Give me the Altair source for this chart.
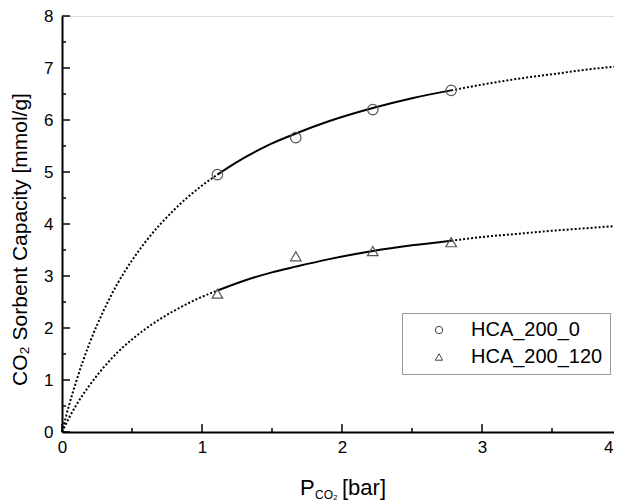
import altair as alt
import pandas as pd

# Measured points
pressure_pts = [1.11, 1.67, 2.22, 2.78]
hca0_pts = [4.95, 5.66, 6.20, 6.57]
hca120_pts = [2.66, 3.38, 3.48, 3.65]
series_names = ["HCA_200_0", "HCA_200_120"]

# Fitted isotherm curves
fit_p = [0, 0.05, 0.1, 0.2, 0.3, 0.4, 0.5, 0.6, 0.8, 1.0, 1.11, 1.3, 1.5,
         1.67, 1.9, 2.22, 2.5, 2.78, 3.0, 3.25, 3.5, 3.75, 4.0]
fit_hca0 = [0, 0.51, 0.96, 1.73, 2.35, 2.87, 3.30, 3.67, 4.27, 4.74, 4.95,
            5.27, 5.55, 5.74, 5.97, 6.23, 6.42, 6.57, 6.68, 6.79, 6.88, 6.97, 7.04]
fit_hca120 = [0, 0.27, 0.51, 0.91, 1.25, 1.54, 1.78, 1.99, 2.33, 2.60, 2.72,
              2.91, 3.07, 3.18, 3.32, 3.48, 3.59, 3.68, 3.75, 3.81, 3.87, 3.92, 3.97]

x_major = [0, 1, 2, 3, 4]
x_minor = [0.5, 1.5, 2.5, 3.5]
y_major = [0, 1, 2, 3, 4, 5, 6, 7, 8]
y_minor = [0.5, 1.5, 2.5, 3.5, 4.5, 5.5, 6.5, 7.5]

W, H = 560, 416
lo, hi = pressure_pts[0], pressure_pts[-1]

# curve table with segments (dotted below / solid within / dotted beyond the data)
rows = []
for name, vals in zip(series_names, [fit_hca0, fit_hca120]):
    for p, q in zip(fit_p, vals):
        if p <= lo:
            rows.append({"p": p, "q": q, "series": name, "seg": "low"})
        if lo <= p <= hi:
            rows.append({"p": p, "q": q, "series": name, "seg": "mid"})
        if p >= hi:
            rows.append({"p": p, "q": q, "series": name, "seg": "high"})
curves = pd.DataFrame(rows)

pts = pd.DataFrame({
    "p": pressure_pts * 2,
    "q": hca0_pts + hca120_pts,
    "series": [series_names[0]] * 4 + [series_names[1]] * 4,
})

xs = alt.Scale(domain=[0, 4], nice=False, zero=False)
ys = alt.Scale(domain=[0, 8], nice=False, zero=False)
FONT = "Liberation Sans"

x_enc = alt.X("p:Q", scale=xs, axis=alt.Axis(
    values=x_major, format="d", ticks=False, tickSize=0, labelPadding=7,
    labelFontSize=17, labelFont=FONT, labelColor="black", title=None,
    labelAlign=alt.condition("datum.value == 4", alt.value("right"), alt.value("center")),
    labelOffset=alt.condition("datum.value == 4", alt.value(-9), alt.value(0)),
    domainColor="black", domainWidth=2, grid=False, labelFlush=False))
y_enc = alt.Y("q:Q", scale=ys, axis=alt.Axis(
    values=y_major, format="d", ticks=False, tickSize=0, labelPadding=9,
    labelFontSize=17, labelFont=FONT, labelColor="black",
    title="CO₂ Sorbent Capacity [mmol/g]", titleFont=FONT, titleFontSize=21,
    titleFontWeight="normal", titleColor="black", titleAngle=-90,
    titleX=-36, titleY=223, titleAlign="center", titleBaseline="alphabetic",
    domainColor="black", domainWidth=2, grid=False))

dotted = alt.Chart(curves).transform_filter(alt.datum.seg != "mid").mark_line(
    color="black", strokeWidth=2, strokeDash=[2, 2], interpolate="monotone"
).encode(x=x_enc, y=y_enc, detail=["series:N", "seg:N"], order="p:Q")

solid = alt.Chart(curves).transform_filter(alt.datum.seg == "mid").mark_line(
    color="black", strokeWidth=2, interpolate="monotone"
).encode(x=alt.X("p:Q", scale=xs), y=alt.Y("q:Q", scale=ys),
         detail="series:N", order="p:Q")

points = alt.Chart(pts).mark_point(
    filled=False, strokeWidth=1.2, color="#555555", size=110, opacity=1
).encode(
    x=alt.X("p:Q", scale=xs), y=alt.Y("q:Q", scale=ys),
    shape=alt.Shape("series:N", scale=alt.Scale(domain=series_names,
                                                 range=["circle", "triangle-up"]),
                    legend=alt.Legend(
                        orient="none", legendX=340, legendY=297, title=None,
                        strokeColor="#999999", fillColor="white",
                        padding=7, rowPadding=7, labelFontSize=20, labelFont=FONT,
                        labelColor="black", symbolSize=55, symbolStrokeWidth=1,
                        symbolStrokeColor="#444444", symbolFillColor="transparent",
                        symbolOffset=20, labelOffset=22, labelLimit=300)),
)

xt = pd.DataFrame({"t": [0]})
tick_x_major = alt.Chart(pd.DataFrame({"t": x_major})).mark_rule(color="black", strokeWidth=1.5).encode(
    x=alt.X("t:Q", scale=xs), y=alt.value(H), y2=alt.value(H - 8))
tick_x_minor = alt.Chart(pd.DataFrame({"t": x_minor})).mark_rule(color="black", strokeWidth=1.5).encode(
    x=alt.X("t:Q", scale=xs), y=alt.value(H), y2=alt.value(H - 4))
tick_y_major = alt.Chart(pd.DataFrame({"t": y_major})).mark_rule(color="black", strokeWidth=1.5).encode(
    y=alt.Y("t:Q", scale=ys), x=alt.value(0), x2=alt.value(8))
tick_y_minor = alt.Chart(pd.DataFrame({"t": y_minor})).mark_rule(color="black", strokeWidth=1.5).encode(
    y=alt.Y("t:Q", scale=ys), x=alt.value(0), x2=alt.value(4))

title_p = alt.Chart(xt).mark_text(text="P", font=FONT, fontSize=22, align="left",
                                  baseline="alphabetic", color="black").encode(
    x=alt.value(238), y=alt.value(479))
title_sub = alt.Chart(xt).mark_text(text="CO₂", font=FONT, fontSize=12, align="left",
                                    baseline="alphabetic", color="black").encode(
    x=alt.value(253), y=alt.value(483))
title_bar = alt.Chart(xt).mark_text(text="[bar]", font=FONT, fontSize=22, align="left",
                                    baseline="alphabetic", color="black").encode(
    x=alt.value(280), y=alt.value(479))

chart = alt.layer(
    dotted, solid, points,
    tick_x_major, tick_x_minor, tick_y_major, tick_y_minor,
    title_p, title_sub, title_bar,
).properties(
    width=W, height=H,
    autosize=alt.AutoSizeParams(type="none"),
    padding={"left": 54, "top": 8, "right": -8, "bottom": 69},
).configure_view(stroke=None).configure(background="white")

chart.save("out.html", embed_options={"renderer": "svg", "actions": False})
